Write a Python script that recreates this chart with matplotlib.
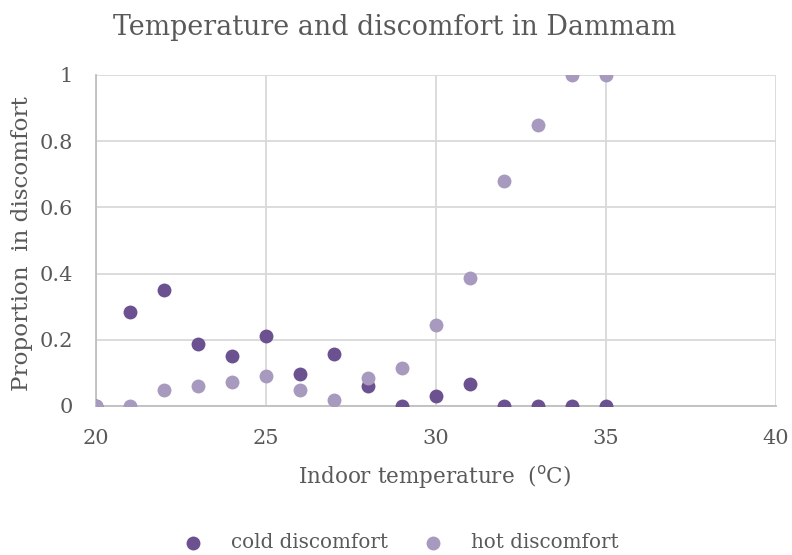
import matplotlib
matplotlib.use("Agg")
import matplotlib.pyplot as plt

# indoor temperature (deg C) and proportion in discomfort
temps = [20, 21, 22, 23, 24, 25, 26, 27, 28, 29, 30, 31, 32, 33, 34, 35]
cold = [0, 0.284, 0.349, 0.186, 0.151, 0.211, 0.097, 0.157, 0.06, 0, 0.03, 0.066, 0, 0, 0, 0]
hot = [0, 0, 0.048, 0.061, 0.073, 0.091, 0.048, 0.018, 0.085, 0.115, 0.245, 0.387, 0.68, 0.849, 1, 1]

x_ticks = [20, 25, 30, 35, 40]
y_ticks = [0, 0.2, 0.4, 0.6, 0.8, 1]
y_labels = ["0", "0.2", "0.4", "0.6", "0.8", "1"]

txt = "#595959"
plt.rcParams['font.family'] = ['DejaVu Serif']

fig = plt.figure(figsize=(7.92, 5.55), dpi=100)
ax = fig.add_axes([0.1212, 0.2685, 0.8586, 0.5964])

ax.scatter(temps, cold, s=100, color="#6B5190", label="cold discomfort", zorder=3, linewidths=0)
ax.scatter(temps, hot, s=100, color="#A899BF", label="hot discomfort", zorder=3, linewidths=0)

ax.set_xlim(20, 40)
ax.set_ylim(0, 1)
ax.set_xticks(x_ticks)
ax.set_yticks(y_ticks)
ax.set_yticklabels(y_labels)
ax.tick_params(length=0, labelsize=15, labelcolor=txt, pad=16.5)
ax.grid(color="#D9D9D9", linewidth=1.3)
ax.set_axisbelow(True)
for s in ["top", "right"]:
    ax.spines[s].set_visible(False)
for s in ["left", "bottom"]:
    ax.spines[s].set_color("#BFBFBF")
    ax.spines[s].set_linewidth(1.3)

fig.text(0.498, 0.937, "Temperature and discomfort in Dammam", fontsize=19.4,
         color=txt, ha="center", va="baseline")
ax.text(0.4985, -0.2145, "Indoor temperature  ($^{\\mathrm{o}}$C)", fontsize=15.5,
        color=txt, ha="center", va="center", transform=ax.transAxes)
ax.text(-0.1088, 0.49, "Proportion  in discomfort", fontsize=16.6, rotation=90,
        color=txt, ha="center", va="center", transform=ax.transAxes)

fig.legend(loc="center", bbox_to_anchor=(0.5, 0.022), ncol=2, frameon=False,
           fontsize=14.3, labelcolor=txt, columnspacing=1.26, handletextpad=0.9)

fig.savefig("out.png", dpi=100)
